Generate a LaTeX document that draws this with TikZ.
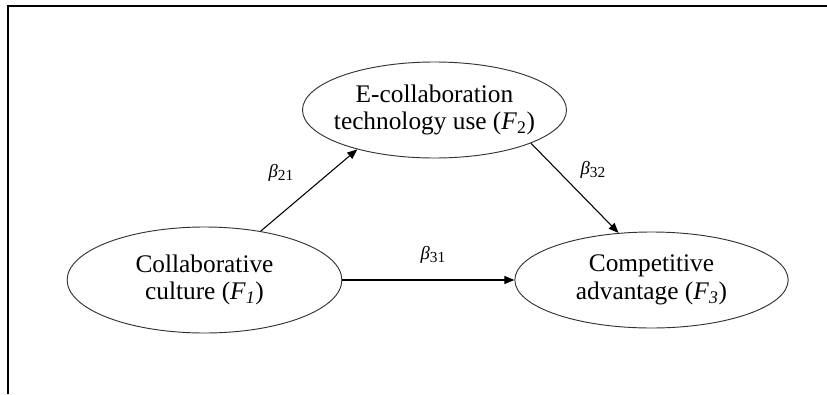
\documentclass[tikz,border=0pt]{standalone}
\usepackage{fontspec}
\setmainfont{Liberation Serif}
\usepackage{tikz}
\usetikzlibrary{arrows.meta,positioning,shapes.geometric}

\newcommand{\coefsub}[1]{\raisebox{-0.35ex}{\fontsize{11.5}{13}\selectfont #1}}

\begin{document}
\begin{tikzpicture}[x=0.75pt, y=0.75pt,
  factor/.style={draw=black!80, line width=0.7pt, ellipse, align=center,
    inner xsep=-30pt, inner ysep=0pt, font=\fontsize{19}{20.5}\selectfont},
  arr/.style={-{Triangle[length=7.5pt, width=6pt]}, line width=0.8pt},
  coef/.style={font=\fontsize{14}{16}\selectfont, inner sep=0pt},
  frame/.style={line width=1.5pt},
]
  \useasboundingbox (0,0) rectangle (827,394);
  \draw[frame] (8,0) -- (8,388) -- (827,388);

  \node[factor, minimum width=206pt, minimum height=79.5pt] (f1) at (204.5,114)
    {Collaborative\\culture (\textit{F}\textsubscript{\textit{1}})};
  \node[factor, minimum width=198pt, minimum height=72pt] (f2) at (434.5,284)
    {E-collaboration\\technology use (\textit{F}\textsubscript{2})};
  \node[factor, minimum width=205pt, minimum height=72pt] (f3) at (651.5,114)
    {Competitive\\advantage (\textit{F}\textsubscript{\textit{3}})};

  \draw[arr] (f1.41) -- (f2.207);
  \draw[arr] (f1.east) -- (f3.west);
  \draw[arr] (f2.-19) -- (f3.125);

  \node[coef] (b21) at (281,221) {\textit{β}\coefsub{21}};
  \node[coef] (b31) at (433,139) {\textit{β}\coefsub{31}};
  \node[coef] (b32) at (593,224) {\textit{β}\coefsub{32}};
\end{tikzpicture}
\end{document}
